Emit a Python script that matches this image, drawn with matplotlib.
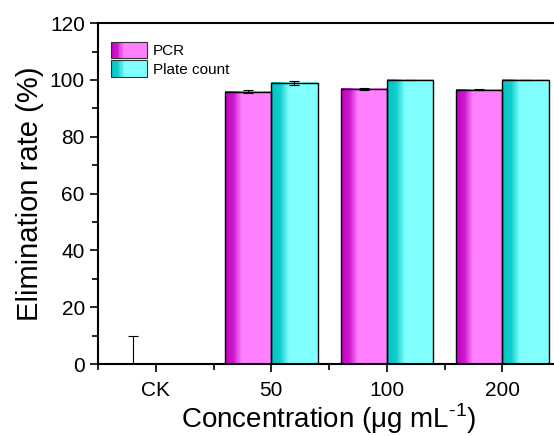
import numpy as np
import matplotlib.pyplot as plt
from matplotlib.colors import LinearSegmentedColormap
from matplotlib.patches import Rectangle
from matplotlib.legend_handler import HandlerBase
from matplotlib.ticker import MultipleLocator, FixedLocator

plt.rcParams['font.family'] = ['Liberation Sans', 'DejaVu Sans']

conc = ['CK', '50', '100', '200']
pcr = [0, 95.9, 96.8, 96.6]
pcr_err = [10, 0.5, 0.5, 0.25]
plate = [0, 99.0, 100, 100]
plate_err = [0, 0.8, 0, 0]

pink = LinearSegmentedColormap.from_list(
    'pink', [(0, '#c400c4'), (0.18, '#cc18cc'), (0.36, '#ff80ff'), (1, '#ff80ff')])
cyan = LinearSegmentedColormap.from_list(
    'cyan', [(0, '#00c4c4'), (0.2, '#14cccc'), (0.38, '#80ffff'), (1, '#80ffff')])

grad = np.linspace(0, 1, 256).reshape(1, -1)


class GradHandler(HandlerBase):
    def __init__(self, cmap):
        super().__init__()
        self.cmap = cmap

    def create_artists(self, legend, orig, xd, yd, w, h, fs, trans):
        arts = []
        n = 30
        x0, y0 = -xd, -yd
        for i in range(n):
            r = Rectangle((x0 + w * i / n, y0), w / n + 0.1, h,
                          facecolor=self.cmap((i + 0.5) / n), edgecolor='none', transform=trans)
            arts.append(r)
        arts.append(Rectangle((x0, y0), w, h, facecolor='none', edgecolor='#333333',
                              lw=0.8, transform=trans))
        return arts


fig = plt.figure(figsize=(5.54, 4.36), dpi=100)
ax = fig.add_axes([0.177, 0.165, 0.834, 0.782])

x = np.arange(len(conc))
w = 0.4
b1 = ax.bar(x - w / 2, pcr, w, facecolor='none', edgecolor='black', lw=1, zorder=3)
b2 = ax.bar(x + w / 2, plate, w, facecolor='none', edgecolor='black', lw=1, zorder=3)

for bars, cm in [(b1, pink), (b2, cyan)]:
    for r in bars:
        if r.get_height() <= 0:
            continue
        x0, y0 = r.get_x(), r.get_y()
        ax.imshow(grad, cmap=cm, aspect='auto', interpolation='bilinear',
                  extent=[x0, x0 + r.get_width(), y0, y0 + r.get_height()], zorder=2)

ax.errorbar(x - w / 2, pcr, yerr=[[0, 0.5, 0.5, 0.25], pcr_err], fmt='none',
            ecolor='black', elinewidth=0.8, capsize=3.5, capthick=0.8, zorder=4)
ax.errorbar(x[1:] + w / 2, plate[1:], yerr=plate_err[1:], fmt='none',
            ecolor='black', elinewidth=0.8, capsize=3.5, capthick=0.8, zorder=4)

ax.set_xlim(-0.5, 3.5)
ax.set_ylim(0, 120)
ax.set_xticks(x)
ax.set_xticklabels(conc)
ax.xaxis.set_minor_locator(FixedLocator([-0.5, 0.5, 1.5, 2.5, 3.5]))
ax.yaxis.set_major_locator(MultipleLocator(20))
ax.yaxis.set_minor_locator(MultipleLocator(10))
ax.tick_params(which='major', direction='out', length=6, width=1.2, labelsize=15)
ax.tick_params(axis='x', which='major', pad=6)
ax.tick_params(which='minor', direction='out', length=4, width=1.2)
for s in ax.spines.values():
    s.set_linewidth(1.5)

ax.set_xlabel('Concentration (μg mL$^{\\mathregular{\u20101}}$)', fontsize=20, labelpad=1)
ax.set_ylabel('Elimination rate (%)', fontsize=21, labelpad=4)

ax.legend([b1, b2], ['PCR', 'Plate count'], loc='upper left', fontsize=11,
          bbox_to_anchor=(0.004, 0.976),
          frameon=False, handlelength=2.4, handleheight=1.25, labelspacing=0.15,
          handletextpad=0.35, borderaxespad=0.3,
          handler_map={b1: GradHandler(pink), b2: GradHandler(cyan)})

fig.savefig('out.png', dpi=100)
